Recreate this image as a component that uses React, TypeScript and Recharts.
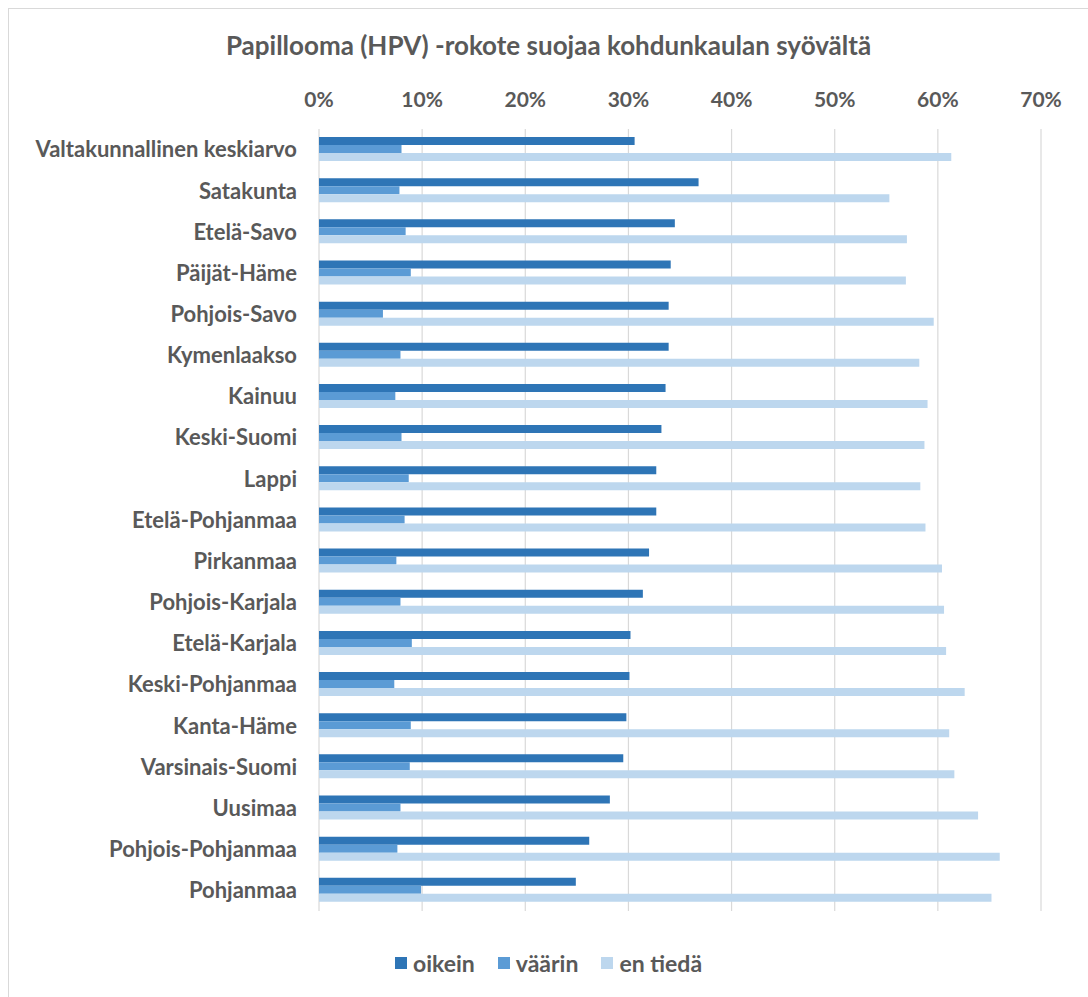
import { BarChart, Bar, XAxis, YAxis, CartesianGrid } from 'recharts'

const categories = [
  'Valtakunnallinen keskiarvo',
  'Satakunta',
  'Etelä-Savo',
  'Päijät-Häme',
  'Pohjois-Savo',
  'Kymenlaakso',
  'Kainuu',
  'Keski-Suomi',
  'Lappi',
  'Etelä-Pohjanmaa',
  'Pirkanmaa',
  'Pohjois-Karjala',
  'Etelä-Karjala',
  'Keski-Pohjanmaa',
  'Kanta-Häme',
  'Varsinais-Suomi',
  'Uusimaa',
  'Pohjois-Pohjanmaa',
  'Pohjanmaa',
]

const oikein = [30.6, 36.8, 34.5, 34.1, 33.9, 33.9, 33.6, 33.2, 32.7, 32.7, 32.0, 31.4, 30.2, 30.1, 29.8, 29.5, 28.2, 26.2, 24.9]
const vaarin = [8.0, 7.8, 8.4, 8.9, 6.2, 7.9, 7.4, 8.0, 8.7, 8.3, 7.5, 7.9, 9.0, 7.3, 8.9, 8.8, 7.9, 7.6, 9.9]
const enTieda = [61.3, 55.3, 57.0, 56.9, 59.6, 58.2, 59.0, 58.7, 58.3, 58.8, 60.4, 60.6, 60.8, 62.6, 61.1, 61.6, 63.9, 66.0, 65.2]

const xTicks = [0, 10, 20, 30, 40, 50, 60, 70]

const series = [
  { key: 'oikein', name: 'oikein', color: '#2E75B6' },
  { key: 'vaarin', name: 'väärin', color: '#5B9BD5' },
  { key: 'enTieda', name: 'en tiedä', color: '#BDD7EE' },
]

const chartData = categories.map((name, i) => ({
  name,
  oikein: oikein[i],
  vaarin: vaarin[i],
  enTieda: enTieda[i],
}))

const font = 'Lato, "Open Sans", sans-serif'
const textColor = '#595959'

export default function App() {
  return (
    <div
      style={{
        position: 'absolute',
        left: 8,
        top: 8,
        width: 1080,
        height: 989,
        boxSizing: 'border-box',
        borderLeft: '1px solid #d9d9d9',
        borderTop: '1px solid #d9d9d9',
        background: '#fff',
        fontFamily: font,
      }}
    >
      <div
        style={{
          position: 'absolute',
          top: 20,
          left: 0,
          width: 1079,
          textAlign: 'center',
          fontSize: 26,
          fontWeight: 700,
          color: textColor,
        }}
      >
        Papillooma (HPV) -rokote suojaa kohdunkaulan syövältä
      </div>
      <BarChart
        width={1079}
        height={988}
        data={chartData}
        layout="vertical"
        margin={{ top: 90, right: 47, left: 10, bottom: 86 }}
        barCategoryGap={8}
        barGap={0}
      >
        <CartesianGrid horizontal={false} stroke="#d9d9d9" strokeWidth={1.2} />
        <XAxis
          type="number"
          orientation="top"
          domain={[0, 70]}
          ticks={xTicks}
          tickFormatter={(v) => `${v}%`}
          axisLine={false}
          tickLine={false}
          tickSize={0}
          tickMargin={22}
          height={30}
          tick={{ fontSize: 21, fontWeight: 700, fill: textColor, fontFamily: font }}
        />
        <YAxis
          type="category"
          dataKey="name"
          width={300}
          axisLine={false}
          tickLine={false}
          tickSize={0}
          tickMargin={22}
          interval={0}
          tick={{ fontSize: 22, fontWeight: 700, fill: textColor, fontFamily: font }}
        />
        {series.map((s) => (
          <Bar key={s.key} dataKey={s.key} name={s.name} fill={s.color} isAnimationActive={false} />
        ))}
      </BarChart>
      <div
        style={{
          position: 'absolute',
          top: 940,
          left: 0,
          width: 1079,
          display: 'flex',
          justifyContent: 'center',
          gap: 23,
          fontSize: 23,
          fontWeight: 700,
          color: textColor,
        }}
      >
        {series.map((s) => (
          <div key={s.key} style={{ display: 'flex', alignItems: 'center', gap: 6 }}>
            <span style={{ width: 12, height: 12, background: s.color, display: 'inline-block' }} />
            <span>{s.name}</span>
          </div>
        ))}
      </div>
    </div>
  )
}
